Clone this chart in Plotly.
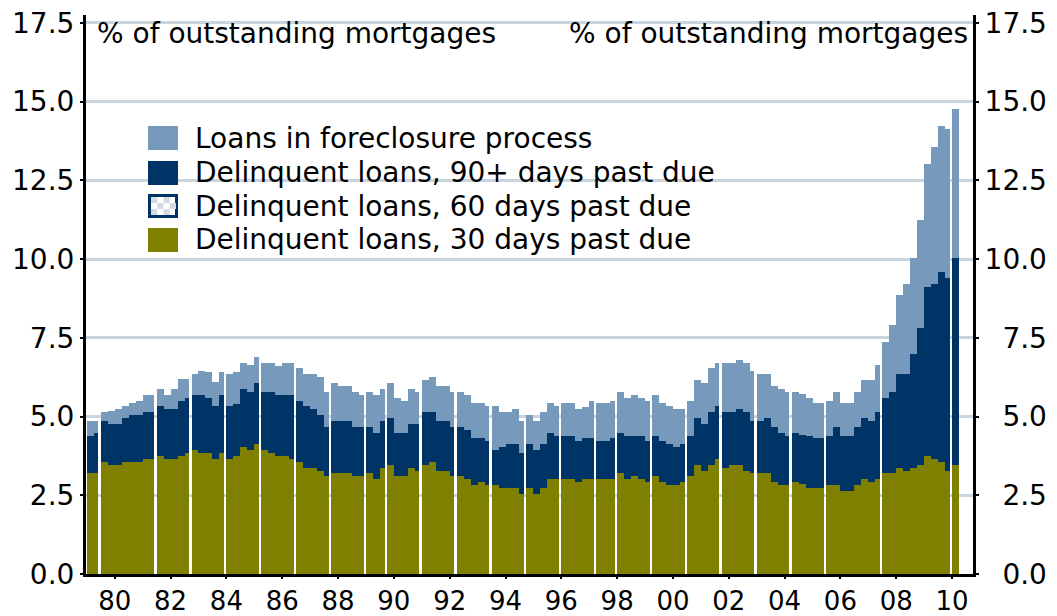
import plotly.graph_objects as go
import numpy as np

# ---------------- data ----------------
quarters = [f"{y}Q{q}" for y in range(1979, 2011) for q in range(1, 5)][:125]

# top of the 30-day band (= 30-day value)
thirty = [
    3.21, 3.21, 3.56, 3.46,  3.46, 3.56, 3.56, 3.56,  3.65, 3.65, 3.75, 3.65,
    3.65, 3.75, 3.84, 3.94,  3.84, 3.84, 3.65, 3.84,  3.65, 3.75, 4.03, 3.94,
    4.13, 3.94, 3.84, 3.75,  3.75, 3.65, 3.56, 3.37,  3.37, 3.27, 3.11, 3.21,
    3.21, 3.21, 3.11, 3.11,  3.21, 3.02, 3.37, 3.46,  3.11, 3.11, 3.37, 3.27,
    3.46, 3.56, 3.27, 3.27,  3.11, 3.11, 3.02, 2.83,  2.92, 2.83, 2.83, 2.73,
    2.73, 2.73, 2.54, 2.73,  2.54, 2.73, 3.02, 3.02,  3.02, 3.02, 2.92, 3.02,
    3.02, 3.02, 3.02, 3.02,  3.21, 3.02, 3.11, 3.02,  2.92, 3.11, 2.92, 2.83,
    2.83, 2.92, 3.11, 3.46,  3.27, 3.46, 3.65, 3.37,  3.46, 3.46, 3.27, 3.21,
    3.21, 3.21, 2.92, 2.83,  2.83, 2.92, 2.85, 2.73,  2.73, 2.73, 2.83, 2.83,
    2.63, 2.63, 2.83, 3.02,  2.92, 3.02, 3.21, 3.21,  3.37, 3.27, 3.37, 3.46,
    3.75, 3.65, 3.56, 3.27,  3.46,
]

sixty = [
    0.86, 0.88, 0.90, 0.88,  0.86, 0.88, 0.90, 0.90,  0.92, 0.90, 0.92, 0.90,
    0.92, 0.95, 0.96, 0.97,  0.95, 0.93, 0.90, 0.93,  0.90, 0.90, 0.95, 0.94,
    0.97, 0.95, 0.93, 0.92,  0.92, 0.91, 0.88, 0.86,  0.85, 0.83, 0.80, 0.82,
    0.82, 0.81, 0.80, 0.79,  0.80, 0.78, 0.82, 0.83,  0.78, 0.78, 0.81, 0.80,
    0.84, 0.85, 0.82, 0.81,  0.80, 0.79, 0.78, 0.75,  0.76, 0.74, 0.72, 0.72,
    0.73, 0.73, 0.70, 0.72,  0.70, 0.73, 0.77, 0.76,  0.76, 0.76, 0.74, 0.75,
    0.75, 0.74, 0.74, 0.75,  0.77, 0.75, 0.75, 0.75,  0.74, 0.75, 0.73, 0.72,
    0.71, 0.72, 0.75, 0.82,  0.80, 0.84, 0.86, 0.84,  0.84, 0.85, 0.83, 0.80,
    0.80, 0.80, 0.78, 0.76,  0.75, 0.76, 0.75, 0.74,  0.73, 0.73, 0.74, 0.78,
    0.74, 0.74, 0.78, 0.82,  0.81, 0.86, 0.92, 0.97,  1.02, 1.06, 1.18, 1.32,
    1.55, 1.52, 1.65, 1.58,  1.50,
]

# cumulative level: top of the 90+ days band (30 + 60 + 90+)
level_90 = [
    4.38, 4.49, 4.86, 4.76,  4.76, 4.95, 5.05, 5.05,  5.14, 5.14, 5.33, 5.24,
    5.24, 5.49, 5.59, 5.68,  5.68, 5.59, 5.33, 5.68,  5.33, 5.40, 5.87, 5.78,
    6.06, 5.78, 5.78, 5.68,  5.68, 5.68, 5.49, 5.33,  5.24, 5.05, 4.67, 4.86,
    4.86, 4.86, 4.67, 4.67,  4.67, 4.48, 4.86, 4.95,  4.48, 4.48, 4.76, 4.76,
    5.14, 5.14, 4.86, 4.86,  4.67, 4.67, 4.57, 4.32,  4.32, 4.22, 3.94, 4.03,
    4.13, 4.13, 3.84, 4.13,  3.94, 4.13, 4.48, 4.38,  4.38, 4.38, 4.22, 4.32,
    4.32, 4.22, 4.22, 4.32,  4.48, 4.38, 4.38, 4.38,  4.22, 4.38, 4.22, 4.13,
    4.03, 4.13, 4.38, 4.95,  4.76, 5.14, 5.33, 5.14,  5.14, 5.24, 5.14, 4.86,
    4.86, 4.95, 4.67, 4.48,  4.38, 4.48, 4.42, 4.38,  4.32, 4.32, 4.38, 4.67,
    4.38, 4.38, 4.67, 4.95,  4.86, 5.14, 5.59, 5.78,  6.35, 6.35, 6.98, 7.81,
    9.11, 9.21, 9.59, 9.40,  10.03,
]

# cumulative level: total (top of foreclosure band)
level_total = [
    4.87, 4.87, 5.14, 5.17,  5.24, 5.33, 5.43, 5.49,  5.68, 5.68, 5.87, 5.68,
    5.87, 6.20, 6.20, 6.35,  6.45, 6.40, 6.10, 6.40,  6.35, 6.40, 6.70, 6.65,
    6.90, 6.70, 6.70, 6.60,  6.70, 6.70, 6.54, 6.35,  6.35, 6.25, 5.78, 6.06,
    5.97, 5.97, 5.78, 5.68,  5.78, 5.68, 5.87, 6.06,  5.59, 5.49, 5.87, 5.78,
    6.16, 6.25, 5.97, 5.97,  5.78, 5.78, 5.68, 5.43,  5.43, 5.33, 5.33, 5.14,
    5.14, 5.24, 4.86, 5.05,  4.86, 5.14, 5.43, 5.33,  5.43, 5.43, 5.24, 5.30,
    5.49, 5.43, 5.43, 5.49,  5.78, 5.59, 5.68, 5.59,  5.49, 5.68, 5.43, 5.33,
    5.24, 5.24, 5.49, 6.16,  6.06, 6.54, 6.70, 6.70,  6.70, 6.79, 6.70, 6.44,
    6.35, 6.35, 5.97, 5.87,  5.78, 5.78, 5.70, 5.59,  5.43, 5.43, 5.49, 5.78,
    5.43, 5.43, 5.78, 6.16,  6.16, 6.63, 7.37, 7.90,  8.86, 9.21, 10.03, 11.24,
    13.02, 13.56, 14.22, 14.13,  14.76,
]

x_tick_years = list(range(1980, 2011, 2))
x_tick_labels = [str(y)[2:] for y in x_tick_years]
y_ticks = [0.0, 2.5, 5.0, 7.5, 10.0, 12.5, 15.0, 17.5]
y_tick_labels = [f"{v:.1f}" for v in y_ticks]

series_names = [
    "Loans in foreclosure process",
    "Delinquent loans, 90+ days past due",
    "Delinquent loans, 60 days past due",
    "Delinquent loans, 30 days past due",
]

# style: bars followed by a thin white separator in the original rendering
gap_after = [1, 9, 14, 19, 24, 29, 34, 39, 42, 47, 52, 57, 62, 67, 72, 75, 80,
             85, 90, 95, 100, 105, 113, 123]

# ---------------- derived series ----------------
thirty_a = np.array(thirty)
sixty_a = np.array(sixty)
ninety_a = np.array(level_90) - thirty_a - sixty_a
fore_a = np.array(level_total) - np.array(level_90)
xpos = [int(q[:4]) + (int(q[-1]) - 0.5) / 4 for q in quarters]

QW = 0.25
GAPW = 0.085
bar_w = [QW - GAPW if i in gap_after else QW for i in range(len(quarters))]
bar_off = [-QW / 2] * len(quarters)

OLIVE = "#808000"
NAVY = "#003366"
LBLUE = "#7799BB"
GRID = "#cad4dc"
FONT = "DejaVu Sans"
FS = 28

fig = go.Figure()
for name, vals, col in [
    (series_names[3], thirty_a, OLIVE),
    (series_names[2], sixty_a, NAVY),
    (series_names[1], ninety_a, NAVY),
    (series_names[0], fore_a, LBLUE),
]:
    fig.add_trace(go.Bar(x=xpos, y=vals, name=name, width=bar_w, offset=bar_off,
                         marker=dict(color=col, line=dict(width=0)),
                         showlegend=False, hovertext=quarters))

# dummy trace so the right axis exists
fig.add_trace(go.Scatter(x=[None], y=[None], yaxis="y2", showlegend=False))

# ---------- page geometry (browser adds an 8px body margin) ----------
OFF = 8
W, H = 1057 - OFF, 616 - OFF
L, R, T, B = 86, 973, 15, 574          # plot area in page pixels
def px(xp):
    return (xp - L) / (R - L)
def py(yp):
    return (B - yp) / (B - T)

ann = []
ann.append(dict(text="% of outstanding mortgages", x=px(95), y=1, xref="paper", yref="paper",
                xanchor="left", yanchor="top", showarrow=False, font=dict(size=FS, color="black", family=FONT)))
ann.append(dict(text="% of outstanding mortgages", x=1, y=1, xref="paper", yref="paper", xshift=-3,
                xanchor="right", yanchor="top", showarrow=False, font=dict(size=FS, color="black", family=FONT)))

shapes = []
rows = [138, 173, 206, 240]
cols = [LBLUE, NAVY, None, OLIVE]
for yc, c, name in zip(rows, cols, series_names):
    if c is not None:
        shapes.append(dict(type="rect", xref="paper", yref="paper", x0=px(148), x1=px(178),
                           y0=py(yc - 12), y1=py(yc + 12), fillcolor=c, line=dict(width=0)))
    else:
        shapes.append(dict(type="rect", xref="paper", yref="paper", x0=px(149.5), x1=px(176.5),
                           y0=py(yc - 10.5), y1=py(yc + 10.5), fillcolor="white",
                           line=dict(width=3, color=NAVY)))
        cw, ch = 25 / 4, 18 / 3
        for i in range(4):
            for j in range(3):
                if (i + j) % 2 == 0:
                    shapes.append(dict(type="rect", xref="paper", yref="paper",
                                       x0=px(151 + i * cw), x1=px(151 + (i + 1) * cw),
                                       y0=py(yc - 9 + j * ch), y1=py(yc - 9 + (j + 1) * ch),
                                       fillcolor="#d3dce5", line=dict(width=0)))
    ann.append(dict(text=name, x=px(193), y=py(yc), xref="paper", yref="paper",
                    xanchor="left", yanchor="middle", showarrow=False,
                    font=dict(size=FS, color="black", family=FONT)))

yax_common = dict(range=[0, 17.75], tickvals=y_ticks, ticks="outside", ticklen=3, tickwidth=2,
                  tickcolor="black", showline=True, linecolor="black", linewidth=3, automargin=False,
                  ticklabeloverflow="allow", zeroline=False,
                  tickfont=dict(size=FS, color="black", family=FONT), fixedrange=True)

FIG_SP = "\u2007"
right_labels = [lab if len(lab) == 4 else FIG_SP + lab for lab in y_tick_labels]

fig.update_layout(
    width=W, height=H, autosize=False,
    margin=dict(l=L - OFF, r=W - (R - OFF), t=T - OFF, b=H - (B - OFF), pad=0),
    paper_bgcolor="white", plot_bgcolor="white",
    barmode="stack", bargap=0,
    font=dict(family=FONT, size=FS, color="black"),
    xaxis=dict(range=[1978.97, 2010.75], tickvals=x_tick_years, ticktext=x_tick_labels,
               ticks="outside", ticklen=2, tickwidth=2, tickcolor="black", automargin=False,
               ticklabeloverflow="allow",
               showline=True, linecolor="black", linewidth=3, showgrid=False, zeroline=False,
               tickfont=dict(size=26, color="black", family=FONT)),
    yaxis=dict(ticktext=y_tick_labels, showgrid=True, gridcolor=GRID, gridwidth=2.5, **yax_common),
    yaxis2=dict(ticktext=right_labels, overlaying="y", side="right", anchor="x", showgrid=False, **yax_common),
    annotations=ann, shapes=shapes,
)

fig.write_html("out.html")
